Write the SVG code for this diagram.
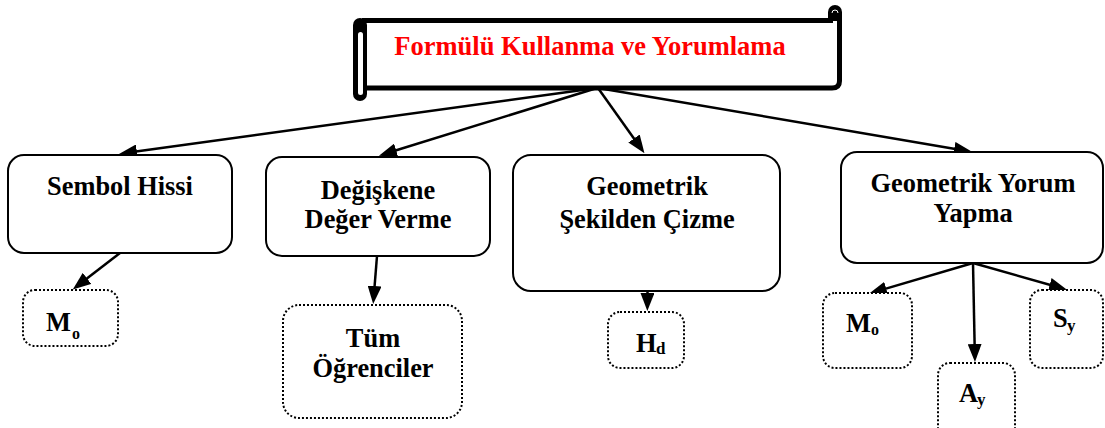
<svg xmlns="http://www.w3.org/2000/svg" width="1105" height="428" viewBox="0 0 1105 428">
  <style>
    text { font-family: "Liberation Serif", "Times New Roman", serif; font-weight: bold; }
    .lbl { font-size: 26.4px; fill: #000; }
    .sub { font-size: 16px; fill: #000; }
    .sub2 { font-size: 17px; fill: #000; }
    .title { font-size: 26.5px; fill: #ff0000; }
    .box { fill: #fff; stroke: #000; stroke-width: 2; }
    .dot { fill: #fff; stroke: #000; stroke-width: 2; stroke-dasharray: 2 2; }
    .edge { fill: none; stroke: #000; stroke-width: 2.5; marker-end: url(#arrow); }
  </style>
  <defs>
    <marker id="arrow" markerUnits="userSpaceOnUse" markerWidth="18" markerHeight="14" refX="10" refY="7" orient="auto">
      <path d="M0,0 L18,7 L0,14 z" fill="#000"/>
    </marker>
  </defs>
  <rect width="1105" height="428" fill="#fff"/>

  <!-- scroll banner -->
  <g id="title">
    <rect x="367" y="20" width="472" height="68" fill="#fff"/>
    <path d="M 362 20.5 H 833 M 839.5 14 V 81 Q 839.5 88 832 88 H 367" fill="none" stroke="#000" stroke-width="5"/>
    <circle cx="835" cy="12" r="7" fill="#000"/>
    <rect x="828" y="12" width="14" height="9" fill="#000"/>
    <path d="M 832 13 A 3 3 0 0 1 838 13" fill="none" stroke="#fff" stroke-width="1"/>
    <rect x="353" y="18" width="14" height="83" rx="7" fill="#000"/>
    <rect x="358" y="32" width="5" height="63" rx="2.5" fill="#fff"/>
    <text class="title" x="590" y="55" text-anchor="middle">Formülü Kullanma ve Yorumlama</text>
  </g>

  <!-- connectors -->
  <g id="edges">
    <line class="edge" x1="597" y1="88" x2="126.9" y2="152.8"/>
    <line class="edge" x1="597" y1="88" x2="386.6" y2="153.3"/>
    <line class="edge" x1="598" y1="88" x2="639.8" y2="146.7"/>
    <line class="edge" x1="598" y1="88" x2="964.1" y2="150.5"/>
    <line class="edge" x1="120" y1="253" x2="79.1" y2="284.5"/>
    <line class="edge" x1="377" y1="256" x2="373.8" y2="296"/>
    <line class="edge" x1="647.5" y1="291" x2="647.4" y2="303"/>
    <line class="edge" x1="973" y1="263" x2="876.6" y2="291.4"/>
    <line class="edge" x1="973" y1="263" x2="974.8" y2="354"/>
    <line class="edge" x1="973" y1="263" x2="1059.3" y2="287.5"/>
  </g>

  <!-- main topics -->
  <g id="sembol">
    <rect class="box" x="8" y="155" width="224" height="98" rx="16"/>
    <text class="lbl" x="120" y="195" text-anchor="middle">Sembol Hissi</text>
  </g>
  <g id="degisken">
    <rect class="box" x="266" y="157" width="224" height="99" rx="16"/>
    <text class="lbl" x="378" y="199" text-anchor="middle">Değişkene</text>
    <text class="lbl" x="378" y="228" text-anchor="middle">Değer Verme</text>
  </g>
  <g id="cizme">
    <rect class="box" x="513" y="155" width="267" height="136" rx="18"/>
    <text class="lbl" x="647" y="195" text-anchor="middle">Geometrik</text>
    <text class="lbl" x="647" y="228" text-anchor="middle">Şekilden Çizme</text>
  </g>
  <g id="yorum">
    <rect class="box" x="841" y="152" width="262" height="111" rx="16"/>
    <text class="lbl" x="973" y="192" text-anchor="middle">Geometrik Yorum</text>
    <text class="lbl" x="973" y="222" text-anchor="middle">Yapma</text>
  </g>

  <!-- leaf items -->
  <g id="mo-left">
    <rect class="dot" x="23" y="290" width="95" height="56" rx="12"/>
    <text class="lbl" x="46" y="331">M</text>
    <text class="sub" x="72" y="339">o</text>
  </g>
  <g id="tum">
    <rect class="dot" x="283" y="305" width="179" height="113" rx="16"/>
    <text class="lbl" x="373" y="347" text-anchor="middle">Tüm</text>
    <text class="lbl" x="373" y="377" text-anchor="middle">Öğrenciler</text>
  </g>
  <g id="hd">
    <rect class="dot" x="608" y="312" width="76" height="56" rx="12"/>
    <text class="lbl" x="636" y="352">H</text>
    <text class="sub2" x="656" y="354">d</text>
  </g>
  <g id="mo-right">
    <rect class="dot" x="823" y="293" width="89" height="75" rx="12"/>
    <text class="lbl" x="846" y="332">M</text>
    <text class="sub" x="871" y="335">o</text>
  </g>
  <g id="ay">
    <rect class="dot" x="938" y="363" width="77" height="80" rx="12"/>
    <text class="lbl" x="959" y="402">A</text>
    <text class="sub2" x="977" y="405">y</text>
  </g>
  <g id="sy">
    <rect class="dot" x="1030" y="290" width="73" height="78" rx="12"/>
    <text class="lbl" x="1053" y="327">S</text>
    <text class="sub2" x="1067" y="331">y</text>
  </g>
</svg>
